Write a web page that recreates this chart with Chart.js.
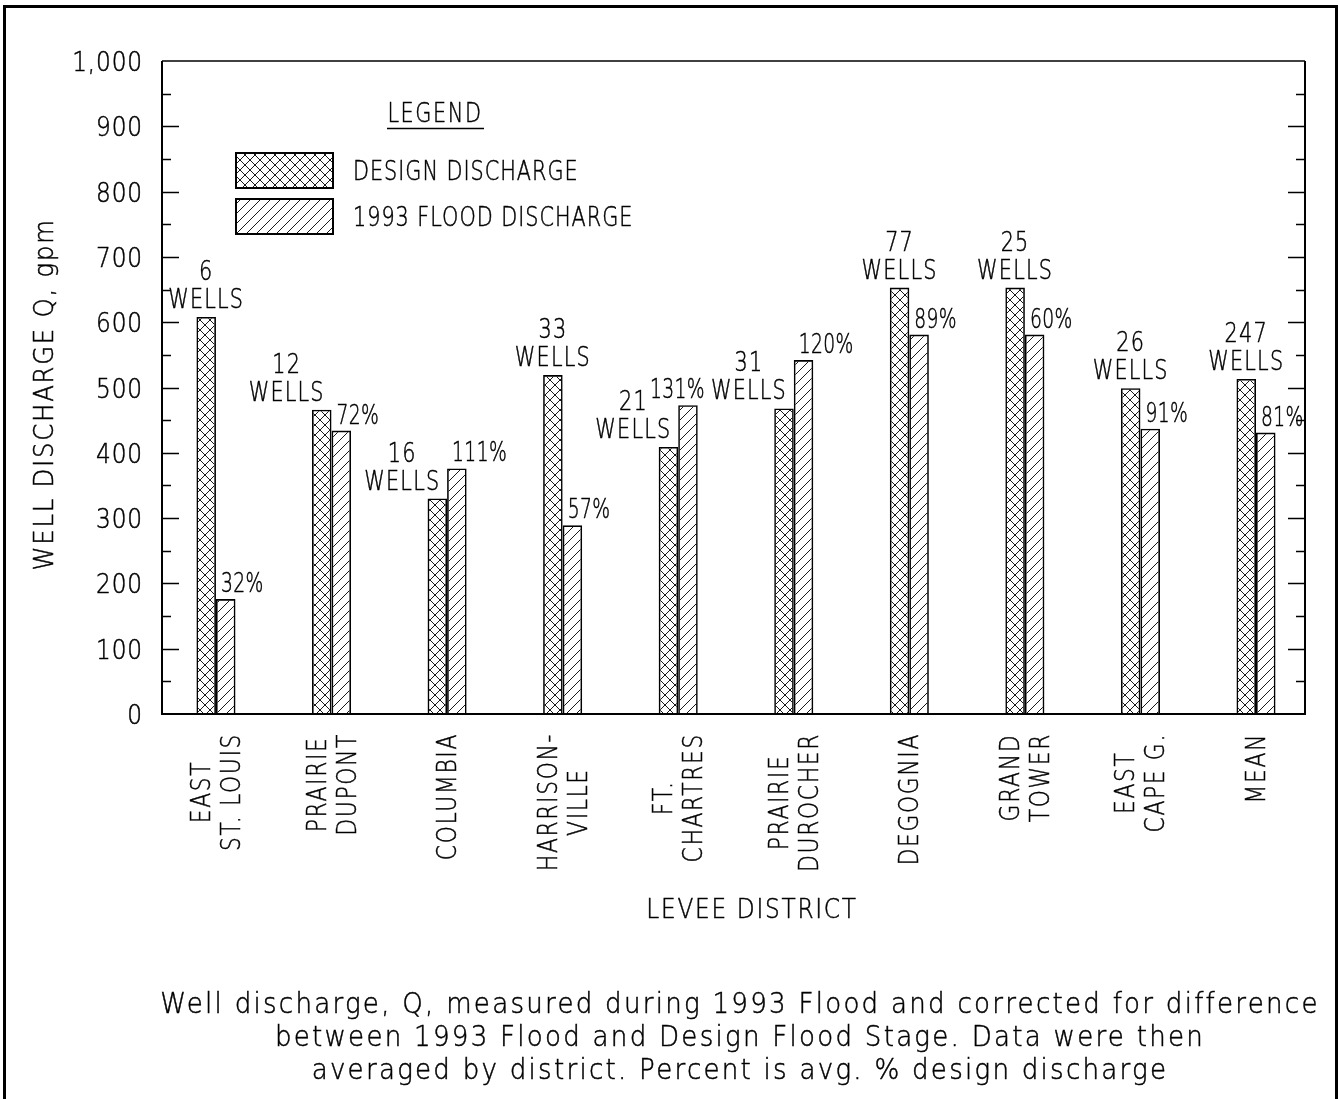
<!DOCTYPE html>
<html>
<head>
<meta charset="utf-8">
<script src="https://cdn.jsdelivr.net/npm/chart.js@4.4.1/dist/chart.umd.min.js"></script>
<style>
  body { margin: 0; background: #fff; }
  #wrap { width: 1340px; height: 1099px; position: relative; }
</style>
</head>
<body>
<div id="wrap"><canvas id="wellChart"></canvas></div>
<script>
// levee districts, one entry per group (lines of the rotated label)
const districts = [
  ['EAST', 'ST. LOUIS'], ['PRAIRIE', 'DUPONT'], ['COLUMBIA'], ['HARRISON-', 'VILLE'],
  ['FT.', 'CHARTRES'], ['PRAIRIE', 'DUROCHER'], ['DEGOGNIA'], ['GRAND', 'TOWER'],
  ['EAST', 'CAPE G.'], ['MEAN']
];
const designDischarge = [608, 466, 330, 519, 409, 468, 653, 653, 499, 513];
const floodDischarge = [176, 434, 376, 289, 473, 542, 581, 581, 437, 431];
const wellCounts = [6, 12, 16, 33, 21, 31, 77, 25, 26, 247];
const pctDesign = [32, 72, 111, 57, 131, 120, 89, 60, 91, 81];

const yTicks = [0, 100, 200, 300, 400, 500, 600, 700, 800, 900, 1000];
const yMinorTicks = [50, 150, 250, 350, 450, 550, 650, 750, 850, 950];

const captionLines = [
  'Well discharge, Q, measured during 1993 Flood and corrected for difference',
  'between 1993 Flood and Design Flood Stage. Data were then',
  'averaged by district. Percent is avg. % design discharge'
];

const FONT = "'DejaVu Sans'";

// hatch fills
function makePattern(cross) {
  const s = 10;
  const c = document.createElement('canvas');
  c.width = s; c.height = s;
  const g = c.getContext('2d');
  g.strokeStyle = '#000';
  g.lineWidth = 0.9;
  g.beginPath();
  g.moveTo(-1, s + 1); g.lineTo(s + 1, -1);
  if (cross) { g.moveTo(-1, -1); g.lineTo(s + 1, s + 1); }
  g.stroke();
  return g.createPattern(c, 'repeat');
}
const crossFill = makePattern(true);
const slashFill = makePattern(false);

// thin CAD-like lettering: extra-light face, squeezed, lightly stroked
function txt(ctx, s, x, y, o = {}) {
  ctx.save();
  ctx.translate(x, y);
  if (o.rot) ctx.rotate(o.rot);
  ctx.scale(o.sx || 0.8, 1);
  ctx.font = `200 ${o.size || 26}px ${FONT}`;
  ctx.letterSpacing = (o.ls == null ? 1 : o.ls) + 'px';
  ctx.textAlign = o.align || 'center';
  ctx.textBaseline = o.base || 'alphabetic';
  ctx.fillStyle = '#000';
  ctx.strokeStyle = '#000';
  ctx.lineWidth = 0.5;
  ctx.fillText(s, 0, 0);
  ctx.strokeText(s, 0, 0);
  ctx.restore();
}
function txtWidth(ctx, s, o = {}) {
  ctx.save();
  ctx.font = `200 ${o.size || 26}px ${FONT}`;
  ctx.letterSpacing = (o.ls == null ? 1 : o.ls) + 'px';
  const w = ctx.measureText(s).width * (o.sx || 0.8);
  ctx.restore();
  return w;
}

const LBL = { ls: 1.5 };
const PCT = { ls: 0.5, sx: 0.72 };
const CAP = 19;

const drawing = {
  id: 'drawing',
  afterDatasetsDraw(chart) {
    const { ctx, chartArea: a, scales: { x, y } } = chart;
    ctx.save();
    ctx.strokeStyle = '#000';

    // outer frame
    ctx.lineWidth = 3;
    ctx.strokeRect(4.5, 6.5, 1332, 1110);

    // plot box
    ctx.lineWidth = 2;
    ctx.beginPath();
    ctx.moveTo(a.left, a.top); ctx.lineTo(a.left, a.bottom); ctx.lineTo(a.right, a.bottom);
    ctx.lineTo(a.right, a.top);
    ctx.stroke();
    ctx.lineWidth = 1.5;
    ctx.beginPath(); ctx.moveTo(a.left, a.top); ctx.lineTo(a.right, a.top); ctx.stroke();

    // inward tick marks on both sides
    ctx.lineWidth = 1.3;
    const tickRow = (vals, len) => vals.forEach(v => {
      const py = Math.round(y.getPixelForValue(v)) + 0.5;
      ctx.beginPath();
      ctx.moveTo(a.left, py); ctx.lineTo(a.left + len, py);
      ctx.moveTo(a.right, py); ctx.lineTo(a.right - len, py);
      ctx.stroke();
    });
    tickRow(yTicks.slice(1, -1), 17);
    tickRow(yMinorTicks, 9);

    // y tick labels
    yTicks.forEach(v => {
      txt(ctx, v.toLocaleString('en-US'), a.left - 19, y.getPixelForValue(v) + 10,
        { align: 'right', size: 27, sx: 0.86 });
    });

    // y title
    txt(ctx, 'WELL DISCHARGE Q, gpm', 46, (a.top + a.bottom) / 2 + 7,
      { rot: -Math.PI / 2, size: 27, base: 'middle', ls: 2, sx: 0.9 });

    // district labels, rotated, lines centred on each other
    const xl = { rot: -Math.PI / 2, size: 27, base: 'middle', ls: 2, sx: 0.81 };
    districts.forEach((lines, i) => {
      const cx = x.getPixelForValue(i);
      const maxLen = Math.max(...lines.map(l => txtWidth(ctx, l, xl)));
      const cy = a.bottom + 19 + maxLen / 2;
      lines.forEach((l, j) => {
        const off = (j - (lines.length - 1) / 2) * 30;
        txt(ctx, l, cx + off + 2, cy, xl);
      });
    });

    // x title
    txt(ctx, 'LEVEE DISTRICT', 752, 918, { size: 27, ls: 2, sx: 0.86 });

    // bar annotations: work out boxes first, then nudge overlapping ones
    const dMeta = chart.getDatasetMeta(0).data;
    const fMeta = chart.getDatasetMeta(1).data;
    const wW = txtWidth(ctx, 'WELLS', LBL);
    const wells = dMeta.map((bar, i) => {
      const right = designDischarge[i] - floodDischarge[i] >= 50 ? bar.x + wW / 2 : bar.x + 3;
      return { left: right - wW, right, base: bar.y - 9 };
    });
    const pcts = fMeta.map((fl, i) => {
      const s = pctDesign[i] + '%';
      const w = txtWidth(ctx, s, PCT);
      const left = fl.x - fl.width / 2 + 5;
      return { s, w, left, right: left + w, base: fl.y - 7 };
    });
    pcts.forEach((p, i) => {
      const n = wells[i + 1];
      if (!n) return;
      const vOverlap = p.base > n.base - CAP && p.base - CAP < n.base;
      if (vOverlap && p.right > n.left - 6) {
        p.left = n.left - 6 - p.w;
        p.right = p.left + p.w;
      }
    });
    wells.forEach((b, i) => {
      const cx = (b.left + b.right) / 2;
      txt(ctx, 'WELLS', cx, b.base, LBL);
      txt(ctx, String(wellCounts[i]), cx, b.base - 28, LBL);
    });
    pcts.forEach(p => txt(ctx, p.s, p.left, p.base, Object.assign({ align: 'left' }, PCT)));

    // legend
    txt(ctx, 'LEGEND', 435, 122, { ls: 2 });
    ctx.lineWidth = 1.5;
    ctx.beginPath(); ctx.moveTo(387, 128.5); ctx.lineTo(484, 128.5); ctx.stroke();
    [[crossFill, 'DESIGN DISCHARGE', 153], [slashFill, '1993 FLOOD DISCHARGE', 199]].forEach(([fill, label, top]) => {
      ctx.fillStyle = fill;
      ctx.fillRect(236, top, 97, 35);
      ctx.lineWidth = 2;
      ctx.strokeRect(236, top, 97, 35);
      txt(ctx, label, 353, top + 27, { align: 'left', ls: 1.2 });
    });

    // caption
    captionLines.forEach((l, k) => {
      txt(ctx, l, 740, 1013 + k * 33, { size: 29, ls: 2.5, sx: 0.9 });
    });

    ctx.restore();
  }
};

const pts = arr => arr.map((v, i) => ({ x: i, y: v }));

new Chart(document.getElementById('wellChart'), {
  type: 'bar',
  data: {
    datasets: [
      { label: 'DESIGN DISCHARGE', data: pts(designDischarge), backgroundColor: crossFill,
        borderColor: '#000', borderWidth: 1.6 },
      { label: '1993 FLOOD DISCHARGE', data: pts(floodDischarge), backgroundColor: slashFill,
        borderColor: '#000', borderWidth: 1.6 }
    ]
  },
  options: {
    responsive: true,
    maintainAspectRatio: false,
    animation: false,
    layout: { padding: { left: 162, top: 61, right: 35, bottom: 385 } },
    datasets: { bar: { categoryPercentage: 0.338, barPercentage: 1.0 } },
    plugins: { legend: { display: false }, tooltip: { enabled: false } },
    scales: {
      x: { type: 'linear', display: false, min: -0.467, max: 9.424, offset: false },
      y: { display: false, min: 0, max: 1000 }
    }
  },
  plugins: [drawing]
});
</script>
</body>
</html>
